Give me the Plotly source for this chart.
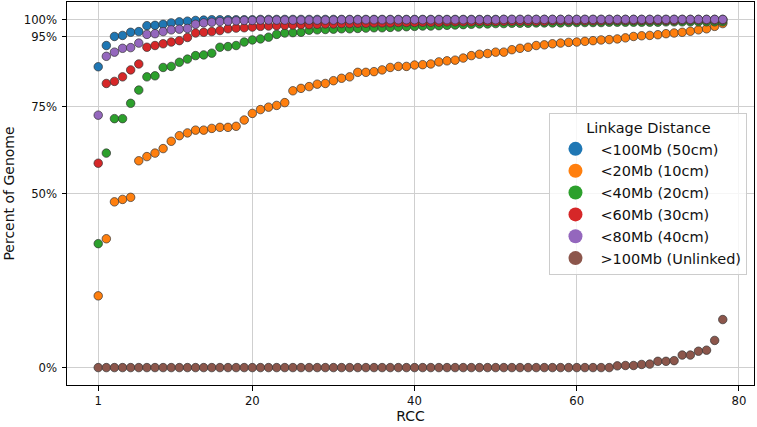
import plotly.graph_objects as go

rcc = list(range(1, 79))

names = ["<100Mb (50cm)", "<20Mb (10cm)", "<40Mb (20cm)", "<60Mb (30cm)", "<80Mb (40cm)", ">100Mb (Unlinked)"]
colors = ["#1f77b4", "#ff7f0e", "#2ca02c", "#d62728", "#9467bd", "#8c564b"]

blue_100mb = [86.4, 92.5, 95.1, 95.4, 96.3, 96.5, 98.2, 98.3, 98.6, 99.0,
              99.3, 99.5, 99.7, 99.8, 99.9, 99.9, 99.9, 99.9, 99.9, 99.9,
              100, 100, 100, 100, 100, 100, 100, 100, 100, 100,
              100, 100, 100, 100, 100, 100, 100, 100, 100, 100,
              100, 100, 100, 100, 100, 100, 100, 100, 100, 100,
              100, 100, 100, 100, 100, 100, 100, 100, 100, 100,
              100, 100, 100, 100, 100, 100, 100, 100, 100, 100,
              100, 100, 100, 100, 100, 100, 100, 100]

orange_20mb = [20.6, 37.0, 47.6, 48.3, 48.9, 59.4, 60.6, 61.6, 62.9, 65.0,
               66.6, 67.4, 68.2, 68.2, 68.7, 69.0, 69.0, 69.3, 71.1, 73.0,
               74.1, 74.8, 75.3, 76.1, 79.5, 80.2, 80.7, 81.4, 81.6, 82.4,
               83.1, 83.5, 84.8, 84.8, 85.0, 85.5, 86.2, 86.5, 86.5, 86.9,
               87.0, 87.2, 87.8, 88.1, 88.3, 88.9, 89.6, 90.0, 90.2, 90.6,
               90.6, 91.3, 91.7, 92.0, 92.5, 92.7, 93.0, 93.2, 93.4, 93.5,
               93.7, 93.9, 94.1, 94.2, 94.4, 94.7, 95.1, 95.3, 95.4, 95.6,
               95.9, 96.1, 96.3, 96.6, 97.0, 97.3, 98.0, 98.8]

green_40mb = [35.6, 61.6, 71.5, 71.5, 75.9, 79.7, 83.5, 83.8, 86.2, 86.5,
              87.7, 88.6, 89.6, 89.8, 90.3, 92.0, 92.2, 92.5, 93.5, 94.1,
              94.4, 94.9, 95.7, 96.1, 96.2, 96.3, 96.9, 97.0, 97.1, 97.2,
              97.3, 97.3, 97.4, 97.5, 97.6, 97.6, 97.7, 97.8, 97.9, 98.0,
              98.1, 98.1, 98.2, 98.3, 98.4, 98.5, 98.6, 98.7, 98.7, 98.8,
              98.8, 98.9, 98.9, 98.9, 99.0, 99.0, 99.0, 99.0, 99.1, 99.1,
              99.1, 99.1, 99.1, 99.2, 99.2, 99.2, 99.2, 99.2, 99.2, 99.2,
              99.3, 99.3, 99.3, 99.3, 99.3, 99.3, 99.3, 99.3]

red_60mb = [58.7, 81.6, 82.2, 83.5, 85.5, 87.2, 92.0, 92.5, 93.0, 93.5,
            93.9, 94.8, 96.1, 96.3, 96.5, 96.8, 97.3, 97.5, 97.6, 97.8,
            98.0, 98.1, 98.2, 98.3, 98.4, 98.5, 98.5, 98.6, 98.7, 98.7,
            98.8, 98.8, 98.9, 98.9, 99.0, 99.0, 99.0, 99.1, 99.1, 99.1,
            99.2, 99.2, 99.2, 99.3, 99.3, 99.3, 99.3, 99.4, 99.4, 99.4,
            99.5, 99.5, 99.5, 99.5, 99.5, 99.5, 99.6, 99.6, 99.6, 99.6,
            99.6, 99.6, 99.6, 99.7, 99.7, 99.7, 99.7, 99.7, 99.7, 99.7,
            99.7, 99.7, 99.8, 99.8, 99.8, 99.8, 99.8, 99.8]

purple_80mb = [72.5, 89.4, 90.6, 91.7, 91.9, 93.2, 95.7, 95.9, 96.5, 97.0,
               97.2, 97.4, 98.6, 99.0, 99.2, 99.4, 99.5, 99.6, 99.7, 99.7,
               99.8, 99.8, 99.8, 99.8, 99.8, 99.8, 99.8, 99.8, 99.8, 99.8,
               99.9, 99.9, 99.9, 99.9, 99.9, 99.9, 99.9, 99.9, 99.9, 99.9,
               99.9, 99.9, 99.9, 99.9, 99.9, 99.9, 99.9, 99.9, 99.9, 99.9,
               100, 100, 100, 100, 100, 100, 100, 100, 100, 100,
               100, 100, 100, 100, 100, 100, 100, 100, 100, 100,
               100, 100, 100, 100, 100, 100, 100, 100]

brown_unlinked = [0] * 64 + [0.5, 0.6, 0.6, 0.9, 1.0, 1.8, 1.8, 2.0, 3.6, 3.6,
                             4.7, 5.0, 7.8, 13.8]

series = [blue_100mb, orange_20mb, green_40mb, red_60mb, purple_80mb, brown_unlinked]

y_tickvals = [0, 50, 75, 95, 100]
y_ticktext = ["0%", "50%", "75%", "95%", "100%"]
x_tickvals = [1, 20, 40, 60, 80]

FONT = "DejaVu Sans"
TXT = "#111111"

fig = go.Figure()
for name, col, vals in zip(names, colors, series):
    fig.add_trace(go.Scatter(
        x=rcc, y=vals, mode="markers", name=name, showlegend=False,
        marker=dict(size=8.5, color=col, line=dict(color="#333333", width=0.7)),
    ))
# legend entries (larger markers, like the reference legend)
for name, col in zip(names, colors):
    fig.add_trace(go.Scatter(
        x=[None], y=[None], mode="markers", name=name, showlegend=True,
        marker=dict(size=14, color=col),
    ))

axis_common = dict(
    showline=True, linecolor="black", linewidth=1, mirror=True,
    ticks="outside", ticklen=4.5, tickcolor="black", tickwidth=1,
    showgrid=True, gridcolor="#cfcfcf", gridwidth=1, zeroline=False,
    tickfont=dict(family=FONT, size=11.7, color=TXT),
    automargin=False,
)

fig.update_xaxes(range=[-2.85, 81.85], tickvals=x_tickvals,
                 title=dict(text="RCC", font=dict(family=FONT, size=14, color=TXT), standoff=0),
                 **axis_common)
fig.update_yaxes(range=[-5, 105], tickvals=y_tickvals, ticktext=y_ticktext,
                 ticklabelstandoff=2,
                 title=dict(text="Percent of Genome", font=dict(family=FONT, size=14, color=TXT), standoff=5),
                 **axis_common)

fig.update_layout(
    width=757, height=427,
    margin=dict(l=67, r=2.5, t=2, b=42),
    paper_bgcolor="white", plot_bgcolor="white",
    font=dict(family=FONT, color=TXT),
    legend=dict(
        title=dict(text="Linkage Distance", side="top center", font=dict(family=FONT, size=14.5, color=TXT)),
        font=dict(family=FONT, size=14.5, color=TXT),
        x=0.9905, xanchor="right", y=0.71, yanchor="top",
        bgcolor="rgba(255,255,255,0.8)", bordercolor="#cccccc", borderwidth=1,
        tracegroupgap=0, itemsizing="trace", itemwidth=40,
    ),
)

fig.write_html("out.html", config={"displayModeBar": False},
               post_script="document.body.style.margin='0';document.body.style.overflow='hidden';")
